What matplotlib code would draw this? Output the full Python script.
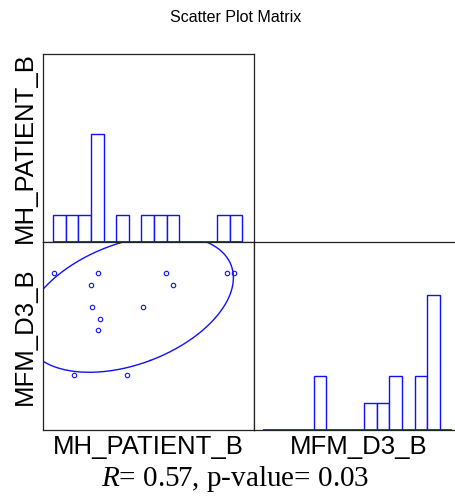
import numpy as np
import matplotlib
matplotlib.use("Agg")
import matplotlib.pyplot as plt

plt.rcParams['font.family'] = ['Liberation Sans', 'DejaVu Sans']
plt.rcParams['mathtext.fontset'] = 'custom'
plt.rcParams['mathtext.rm'] = 'Liberation Serif'
plt.rcParams['mathtext.it'] = 'Liberation Serif:italic'

# values (no ticks shown, so arbitrary linear units)
mh_patient_b = [1.13, 5.47, 12.27, 18.37, 19.10, 4.77, 13.00,
                4.93, 10.00, 5.70, 5.50, 3.13, 8.40]
mfm_d3_b = [15.67, 15.67, 15.67, 15.67, 15.67, 14.53, 14.53,
            12.27, 12.27, 11.13, 10.00, 5.50, 5.50]
var_names = ["MH_PATIENT_B", "MFM_D3_B"]

# histogram bins and axis ranges
mh_lim = (0, 21.1)
mfm_lim = (0, 18.8)
mh_bins = np.linspace(1.03, 19.93, 16)
mfm_bins = np.linspace(0.829, 17.67, 16)
count_lim = (0, 6.96)
n_std = 1.85

blue = '#1010ff'
W, H = 456, 499
fig = plt.figure(figsize=(W / 100, H / 100), dpi=100)


def box(x0, y0, x1, y1):
    # pixel box -> figure axes
    return fig.add_axes([x0 / W, 1 - y1 / H, (x1 - x0) / W, (y1 - y0) / H])


ax_h1 = box(43, 54, 254, 242)
ax_sc = box(43, 242, 254, 430)
ax_h2 = box(254, 242, 465, 430)

for ax in (ax_h1, ax_sc, ax_h2):
    ax.set_xticks([])
    ax.set_yticks([])
    for s in ax.spines.values():
        s.set_color('#222222')
        s.set_linewidth(0.9)

# top-left histogram
ax_h1.hist(mh_patient_b, bins=mh_bins, facecolor='white', edgecolor=blue, linewidth=1)
ax_h1.hlines(0, mh_bins[0], mh_bins[-1], color=blue, linewidth=1.2)
ax_h1.set_xlim(mh_lim)
ax_h1.set_ylim(count_lim)

# bottom-right histogram
ax_h2.hist(mfm_d3_b, bins=mfm_bins, facecolor='white', edgecolor=blue, linewidth=1)
ax_h2.hlines(0, mfm_bins[0], mfm_bins[-1], color=blue, linewidth=1.2)
ax_h2.set_xlim(mfm_lim)
ax_h2.set_ylim(count_lim)

# scatter with covariance ellipse
x = np.array(mh_patient_b)
y = np.array(mfm_d3_b)
ax_sc.plot(x, y, 'o', mfc='none', mec=blue, ms=3.2, mew=0.8)
cov = np.cov(x, y)
vals, vecs = np.linalg.eigh(cov)
t = np.linspace(0, 2 * np.pi, 400)
circ = np.vstack([np.cos(t), np.sin(t)]) * (n_std * np.sqrt(vals))[:, None]
ell = vecs @ circ
ex = np.clip(ell[0] + x.mean(), *mh_lim)
ey = np.clip(ell[1] + y.mean(), *mfm_lim)
ax_sc.plot(ex, ey, color=blue, linewidth=1)
ax_sc.set_xlim(mh_lim)
ax_sc.set_ylim(mfm_lim)

# labels
fig.text(236 / W, 1 - 17 / H, "Scatter Plot Matrix", ha='center', va='center', fontsize=11.5)
fig.text(25 / W, 1 - 148 / H, var_names[0], rotation=90, ha='center', va='center', fontsize=18.5)
fig.text(25 / W, 1 - 336 / H, var_names[1], rotation=90, ha='center', va='center', fontsize=18.5)
fig.text(148 / W, 1 - 454 / H, var_names[0], ha='center', va='baseline', fontsize=18.5)
fig.text(359 / W, 1 - 454 / H, var_names[1], ha='center', va='baseline', fontsize=18.5)
fig.text(235 / W, 1 - 486 / H, r"$\mathit{R}$= 0.57, p-value= 0.03", ha='center', va='baseline',
         fontsize=21, family=['Liberation Serif', 'DejaVu Serif'])

fig.savefig("out.png", dpi=100)
